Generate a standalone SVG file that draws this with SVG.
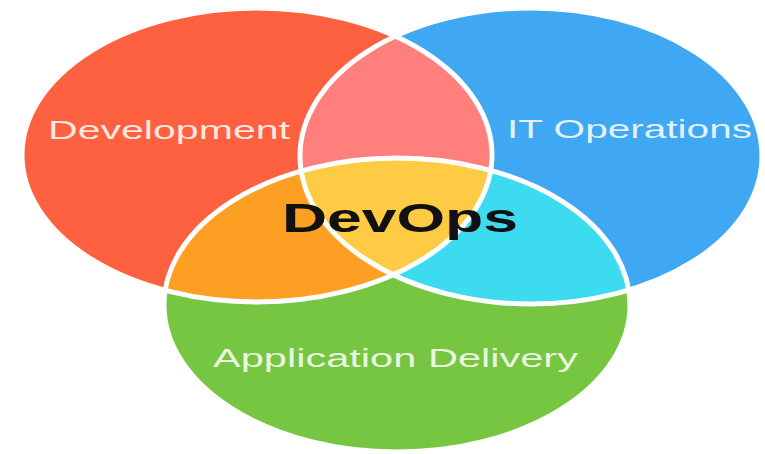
<svg xmlns="http://www.w3.org/2000/svg" width="765" height="454" viewBox="0 0 765 454">
<style>
.edge{fill:none;stroke:#ffffff;stroke-width:5}
.lbl{font-family:"Liberation Sans",Arial,sans-serif;font-size:25px;fill:#ffffff;fill-opacity:0.85}
.title{font-family:"Liberation Sans",Arial,sans-serif;font-size:41px;font-weight:bold;fill:#111111}
</style>
<defs>
<ellipse id="eR" cx="257" cy="155" rx="235" ry="147"/>
<ellipse id="eB" cx="531" cy="156" rx="231" ry="148"/>
<ellipse id="eG" cx="397" cy="305" rx="233" ry="147"/>
<clipPath id="cR"><use href="#eR"/></clipPath>
<clipPath id="cB"><use href="#eB"/></clipPath>
<clipPath id="cG"><use href="#eG"/></clipPath>
</defs>
<rect width="765" height="454" fill="#ffffff"/>
<g id="development">
<use href="#eR" fill="#FE6140"/>
</g>
<g id="it-operations">
<use href="#eB" fill="#40A7F3"/>
</g>
<g id="application-delivery">
<use href="#eG" fill="#77C642"/>
</g>
<g id="overlaps">
<g clip-path="url(#cR)"><use href="#eB" fill="#FF7F7C"/></g>
<g clip-path="url(#cR)"><use href="#eG" fill="#FD9F22"/></g>
<g clip-path="url(#cB)"><use href="#eG" fill="#3DDBF0"/></g>
<g clip-path="url(#cR)"><g clip-path="url(#cB)"><use href="#eG" fill="#FFCA44"/></g></g>
</g>
<g id="edges">
<use href="#eR" class="edge"/>
<use href="#eB" class="edge"/>
<use href="#eG" class="edge"/>
</g>
<g id="labels">
<text class="lbl" x="48" y="139" textLength="242" lengthAdjust="spacingAndGlyphs">Development</text>
<text class="lbl" x="507" y="138" textLength="245" lengthAdjust="spacingAndGlyphs">IT Operations</text>
<text class="lbl" x="213" y="367" textLength="365" lengthAdjust="spacingAndGlyphs">Application Delivery</text>
<text class="title" x="282" y="232" textLength="236" lengthAdjust="spacingAndGlyphs">DevOps</text>
</g>
</svg>
